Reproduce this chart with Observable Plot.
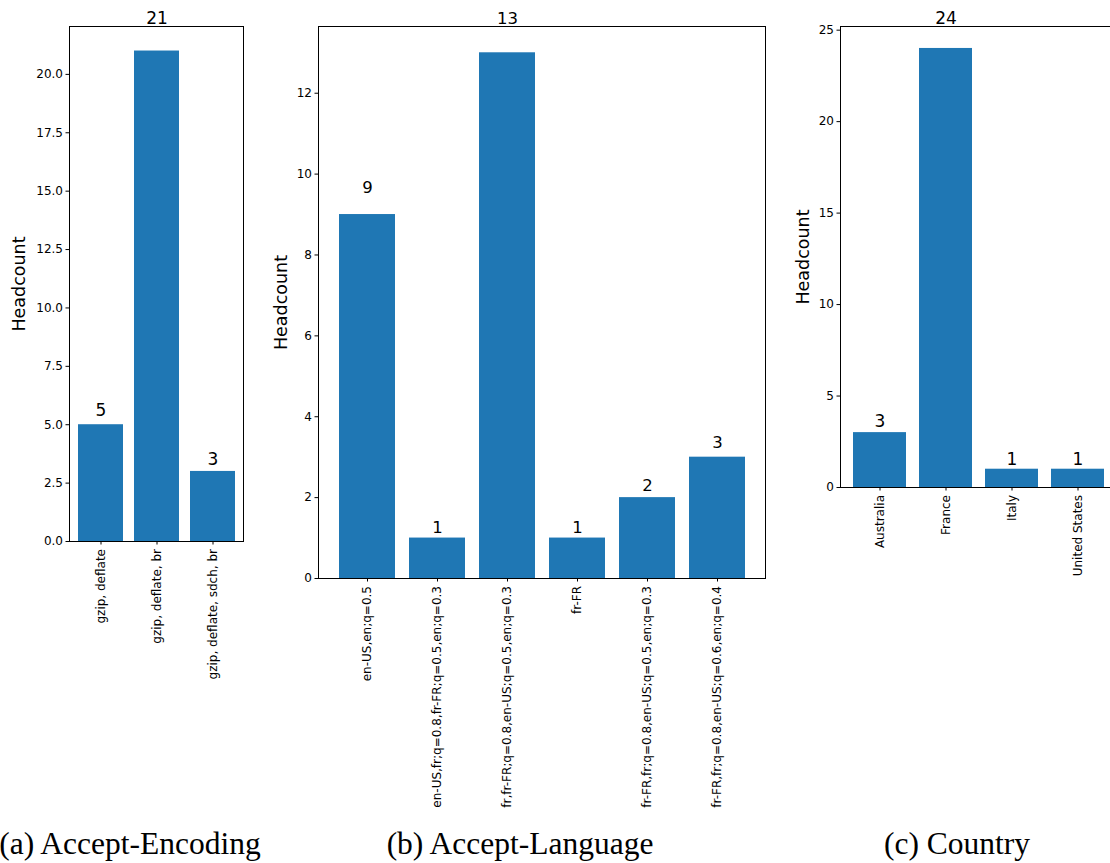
<!DOCTYPE html>
<html>
<head>
<meta charset="utf-8">
<script src="https://cdn.jsdelivr.net/npm/d3@7"></script>
<script src="https://cdn.jsdelivr.net/npm/@observablehq/plot@0.6"></script>
<style>
  html, body { margin: 0; padding: 0; background: #fff; overflow: hidden; width: 1110px; height: 863px; }
  #root { position: relative; width: 1110px; height: 863px; }
  .caption { position: absolute; top: 826px; font-family: "Liberation Serif", "DejaVu Serif", serif; font-size: 31.5px; line-height: 36px; color: #000; white-space: nowrap; transform: translateX(-50%); }
</style>
</head>
<body>
<div id="root"></div>
<script>
// ---- Data ----
const encodingCats = ["gzip, deflate", "gzip, deflate, br", "gzip, deflate, sdch, br"];
const encodingCounts = [5, 21, 3];
const encodingTicks = [0, 2.5, 5, 7.5, 10, 12.5, 15, 17.5, 20];

const languageCats = [
  "en-US,en;q=0.5",
  "en-US,fr;q=0.8,fr-FR;q=0.5,en;q=0.3",
  "fr,fr-FR;q=0.8,en-US;q=0.5,en;q=0.3",
  "fr-FR",
  "fr-FR,fr;q=0.8,en-US;q=0.5,en;q=0.3",
  "fr-FR,fr;q=0.8,en-US;q=0.6,en;q=0.4"
];
const languageCounts = [9, 1, 13, 1, 2, 3];
const languageTicks = [0, 2, 4, 6, 8, 10, 12];

const countryCats = ["Australia", "France", "Italy", "United States"];
const countryCounts = [3, 24, 1, 1];
const countryTicks = [0, 5, 10, 15, 20, 25];

const captions = ["(a) Accept-Encoding", "(b) Accept-Language", "(c) Country"];
const yLabel = "Headcount";

// ---- Drawing ----
const BLUE = "#1f77b4";
const FONT = "DejaVu Sans, sans-serif";

function panel({cats, counts, ticks, tickFormat, left, width, height, mL, mR, mT, mB, tickFont, labelOffset, valueFont}) {
  const data = cats.map((c, i) => ({cat: c, v: counts[i]}));
  const n = cats.length;
  const maxV = d3.max(counts);
  const outer = 0.05 * (n - 0.2);
  const chart = Plot.plot({
    width, height,
    marginLeft: mL, marginRight: mR, marginTop: mT, marginBottom: mB,
    style: {fontFamily: FONT, color: "#000", background: "transparent", overflow: "visible"},
    x: {domain: cats, paddingInner: 0.2, paddingOuter: outer, align: 0.5},
    y: {domain: [0, maxV * 1.05]},
    marks: [
      Plot.barY(data, {x: "cat", y: "v", fill: BLUE}),
      Plot.text(data, {x: "cat", y: d => d.v * 1.05, text: d => String(d.v), lineAnchor: "bottom", fontSize: valueFont, fill: "#000", dy: -3}),
      Plot.frame({stroke: "#000", strokeWidth: 1}),
      Plot.axisY({ticks, tickFormat, tickSize: 3.5, tickPadding: 3, fontSize: tickFont, label: yLabel, labelAnchor: "center", labelArrow: "none", labelOffset}),
      Plot.axisX({tickRotate: -90, tickSize: 3.5, tickPadding: 4, fontSize: tickFont, label: null})
    ]
  });
  chart.style.position = "absolute";
  chart.style.left = left + "px";
  chart.style.top = "0px";
  chart.querySelectorAll("[aria-label='y-axis label']").forEach(el => {
    el.setAttribute("font-size", 17.5);
  });
  return chart;
}

const root = document.getElementById("root");

root.appendChild(panel({
  cats: encodingCats, counts: encodingCounts, ticks: encodingTicks, tickFormat: d3.format(".1f"),
  left: 0, width: 260, height: 700, mL: 69, mR: 17, mT: 26, mB: 159, tickFont: 12, labelOffset: 57, valueFont: 17
}));
root.appendChild(panel({
  cats: languageCats, counts: languageCounts, ticks: languageTicks, tickFormat: d3.format("d"),
  left: 260, width: 520, height: 820, mL: 58, mR: 15, mT: 26, mB: 242, tickFont: 12, labelOffset: 44, valueFont: 16.5
}));
root.appendChild(panel({
  cats: countryCats, counts: countryCounts, ticks: countryTicks, tickFormat: d3.format("d"),
  left: 780, width: 340, height: 600, mL: 60, mR: 4, mT: 26, mB: 113, tickFont: 12, labelOffset: 44, valueFont: 17
}));

const capX = [130, 520, 957];
captions.forEach((t, i) => {
  const d = document.createElement("div");
  d.className = "caption";
  d.style.left = capX[i] + "px";
  d.textContent = t;
  root.appendChild(d);
});
</script>
</body>
</html>
